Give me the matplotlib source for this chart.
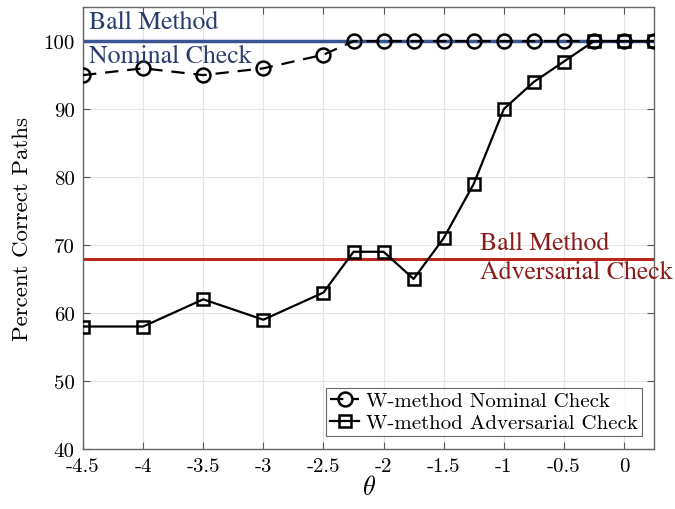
import numpy as np
import matplotlib
matplotlib.use('Agg')
import matplotlib.pyplot as plt

plt.rcParams['font.family'] = ['cmr10', 'DejaVu Serif']
plt.rcParams['mathtext.fontset'] = 'cm'
plt.rcParams['axes.unicode_minus'] = False

theta = [-4.5, -4, -3.5, -3, -2.5, -2.25, -2, -1.75, -1.5, -1.25, -1, -0.75, -0.5, -0.25, 0, 0.25]
nominal = [95, 96, 95, 96, 98, 100, 100, 100, 100, 100, 100, 100, 100, 100, 100, 100]
adversarial = [58, 58, 62, 59, 63, 69, 69, 65, 71, 79, 90, 94, 97, 100, 100, 100]
ball_nominal = 100
ball_adversarial = 68
xticks = [-4.5, -4, -3.5, -3, -2.5, -2, -1.5, -1, -0.5, 0]
xtick_labels = ['-4.5', '-4', '-3.5', '-3', '-2.5', '-2', '-1.5', '-1', '-0.5', '0']
yticks = [40, 50, 60, 70, 80, 90, 100]

fig = plt.figure(figsize=(6.75, 5.1), dpi=100)
ax = fig.add_axes([0.123, 0.118, 0.846, 0.866])

ax.axhline(ball_nominal, color='#3b5592', lw=2.5, zorder=1)
ax.axhline(ball_adversarial, color='#b8261d', lw=2.2, zorder=1)

ax.plot(theta, nominal, '--o', color='black', lw=1.6, ms=10, mew=1.8,
        mfc='none', dashes=(6, 4), label='W-method Nominal Check', zorder=3)
ax.plot(theta, adversarial, '-s', color='black', lw=1.6, ms=9, mew=1.8,
        mfc='none', label='W-method Adversarial Check', zorder=3)

ax.text(-4.45, 102.8, 'Ball Method', color='#2b3d6e', fontsize=18.5,
        family='STIXGeneral', va='center', ha='left')
ax.text(-4.45, 97.8, 'Nominal Check', color='#2b3d6e', fontsize=18.5,
        family='STIXGeneral', va='center', ha='left')
ax.text(-1.2, 70.3, 'Ball Method', color='#8b1c1a', fontsize=18.5,
        family='STIXGeneral', va='center', ha='left', clip_on=False)
ax.text(-1.2, 66.0, 'Adversarial Check', color='#8b1c1a', fontsize=18.5,
        family='STIXGeneral', va='center', ha='left', clip_on=False)

ax.set_xlim(-4.5, 0.25)
ax.set_ylim(40, 105)
ax.set_xticks(xticks)
ax.set_xticklabels(xtick_labels)
ax.set_yticks(yticks)
ax.tick_params(labelsize=15, direction='in', length=5, color='#555555',
               top=True, right=True, pad=6)
ax.grid(True, color='#e4e4e4', lw=0.8)
ax.set_axisbelow(True)
for s in ax.spines.values():
    s.set_color('#666666')
    s.set_linewidth(1.0)

ax.set_ylabel('Percent Correct Paths', fontsize=16.5, labelpad=8)
ax.set_xlabel(r'$\theta$', fontsize=19, labelpad=0)

leg = ax.legend(loc='lower right', fontsize=15, frameon=True, fancybox=False,
                edgecolor='#444444', handlelength=1.4, handletextpad=0.3,
                borderpad=0.2, labelspacing=0.15, borderaxespad=0.6)
leg.get_frame().set_linewidth(0.8)

fig.savefig('out.png', dpi=100)
